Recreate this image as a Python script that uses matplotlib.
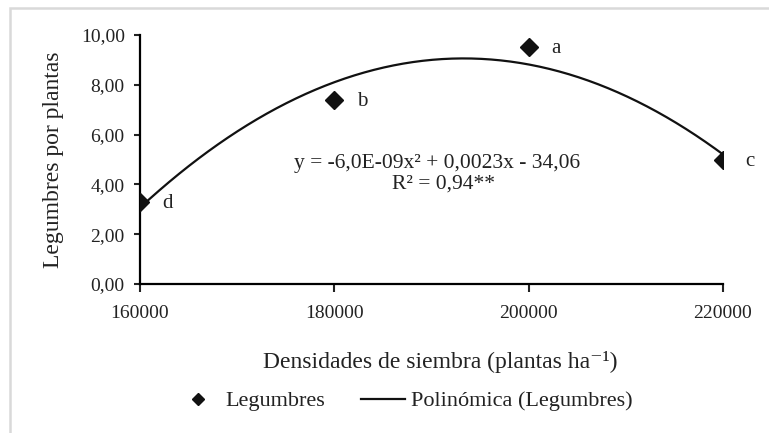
import numpy as np
import matplotlib
matplotlib.use('Agg')
import matplotlib.pyplot as plt
from matplotlib.patches import Rectangle

# datos
densidades = [160000, 180000, 200000, 220000]
legumbres = [3.30, 7.40, 9.52, 4.97]
letras = ['d', 'b', 'a', 'c']
yticks = [0, 2, 4, 6, 8, 10]
ytick_labels = ['0,00', '2,00', '4,00', '6,00', '8,00', '10,00']
xticks = [160000, 180000, 200000, 220000]
ecuacion = 'y = -6,0E-09x² + 0,0023x - 34,06'
r2 = 'R² = 0,94**'

plt.rcParams['font.family'] = ['Liberation Serif', 'DejaVu Serif']

W, H = 769, 433
fig = plt.figure(figsize=(W / 100, H / 100), dpi=100)

# marco gris
fig.patches.append(Rectangle((10 / W, -0.1), 1.2, (H - 8) / H + 0.1,
                             transform=fig.transFigure, fill=False,
                             edgecolor='#d9d9d9', linewidth=1.8))

ax = fig.add_axes([140 / W, 1 - 284 / H, (723 - 140) / W, (284 - 35) / H])

# ajuste polinomico de orden 2
coef = np.polyfit(densidades, legumbres, 2)
xs = np.linspace(densidades[0], densidades[-1], 300)
ax.plot(xs, np.polyval(coef, xs), color='#111111', linewidth=1.6,
        label='Polinómica (Legumbres)', zorder=2)
ax.plot(densidades, legumbres, linestyle='none', marker='D', markersize=9,
        color='#111111', label='Legumbres', zorder=3)

for x, y, l in zip(densidades, legumbres, letras):
    ax.annotate(l, (x, y), xytext=(16, -1), textcoords='offset points',
                fontsize=15, va='center', ha='left', color='#222222',
                annotation_clip=False)

ax.text(0.51, 0.485, ecuacion, transform=ax.transAxes, fontsize=15.5,
        ha='center', va='center', color='#222222')
ax.text(0.52, 0.40, r2, transform=ax.transAxes, fontsize=15.5,
        ha='center', va='center', color='#222222')

ax.set_xlim(160000, 220000)
ax.set_ylim(0, 10)
ax.set_xticks(xticks)
ax.set_xticklabels([str(v) for v in xticks])
ax.set_yticks(yticks)
ax.set_yticklabels(ytick_labels)
ax.tick_params(axis='x', direction='out', length=6, width=1.5, pad=9,
               labelsize=14, colors='#222222')
ax.tick_params(axis='y', direction='out', length=4, width=1.5, pad=7,
               labelsize=14, colors='#222222')
for s in ['top', 'right']:
    ax.spines[s].set_visible(False)
for s in ['left', 'bottom']:
    ax.spines[s].set_linewidth(1.6)
ax.spines['bottom'].set_zorder(5)

ax.set_ylabel('Legumbres por plantas', fontsize=17, color='#222222', labelpad=12)
ax.set_xlabel('Densidades de siembra (plantas ha⁻¹)', fontsize=17,
              color='#222222', labelpad=21)
ax.xaxis.label.set_x(0.515)

handles, labels = ax.get_legend_handles_labels()
leg = fig.legend(handles[::-1], labels[::-1], loc='center',
                 bbox_to_anchor=(404 / W, 1 - 401 / H), ncol=2, frameon=False,
                 fontsize=16, handlelength=2.0, columnspacing=1.6,
                 handletextpad=0.25, markerscale=0.65)
for t in leg.get_texts():
    t.set_color('#222222')

fig.savefig('out.png', dpi=100)
